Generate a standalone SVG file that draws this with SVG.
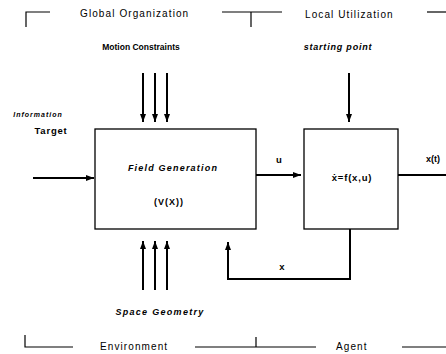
<svg xmlns="http://www.w3.org/2000/svg" width="446" height="354" viewBox="0 0 446 354">
<style>
.ln{fill:none;stroke:#000;stroke-width:1.2}
.th{fill:none;stroke:#000;stroke-width:2}
.box{fill:#fff;stroke:#000;stroke-width:1.3}
.hd{font-family:"Liberation Sans",Arial,sans-serif;font-size:10px;letter-spacing:1.1px;fill:#000}
.b{font-family:"Liberation Sans",Arial,sans-serif;font-size:9px;font-weight:bold;fill:#000}
.bi{font-family:"Liberation Sans",Arial,sans-serif;font-size:9px;font-weight:bold;font-style:italic;fill:#000}
</style>
<defs>
<marker id="ah" viewBox="0 0 8 6" refX="8" refY="3" markerWidth="8" markerHeight="6" markerUnits="userSpaceOnUse" orient="auto">
<path d="M0,0 L8,3 L0,6 Z" fill="#000"/>
</marker>
</defs>
<g id="headers">
<path class="ln" d="M26,27 V12 H50"/>
<text class="hd" x="80" y="17">Global Organization</text>
<path class="ln" d="M222,12 H282 M251,12 V27"/>
<text class="hd" x="305" y="18">Local Utilization</text>
<path class="ln" d="M427,12 H446"/>
<path class="ln" d="M25,335 V347 H73"/>
<text class="hd" x="100" y="350">Environment</text>
<path class="ln" d="M195,347 H316 M256,337 V347"/>
<text class="hd" x="336" y="350">Agent</text>
<path class="ln" d="M402,347 H446"/>
</g>
<g id="labels">
<text class="b" x="141" y="50" text-anchor="middle" style="font-size:8.5px">Motion Constraints</text>
<text class="bi" x="338" y="50" text-anchor="middle" style="letter-spacing:0.8px">starting point</text>
<text class="bi" x="38" y="117" text-anchor="middle" style="font-size:7px;letter-spacing:1px">Information</text>
<text class="b" x="51" y="134" text-anchor="middle" style="font-size:9.5px;letter-spacing:0.8px">Target</text>
<text class="bi" x="160" y="315" text-anchor="middle" style="letter-spacing:1.3px">Space Geometry</text>
</g>
<g id="field">
<rect class="box" x="95" y="129" width="161" height="100"/>
<text class="bi" x="173" y="171" text-anchor="middle" style="letter-spacing:1.2px">Field Generation</text>
<text class="b" x="169" y="205" text-anchor="middle" style="letter-spacing:1px">(V(X))</text>
</g>
<g id="agent">
<rect class="box" x="304" y="129" width="94" height="100"/>
<text class="b" x="352" y="181" text-anchor="middle" style="font-size:9.5px;letter-spacing:0.8px">ẋ=f(x,u)</text>
</g>
<g id="connectors">
<path class="th" d="M143,73 V122" marker-end="url(#ah)"/>
<path class="th" d="M155,73 V122" marker-end="url(#ah)"/>
<path class="th" d="M167,73 V122" marker-end="url(#ah)"/>
<path class="th" d="M349,73 V122" marker-end="url(#ah)"/>
<path class="th" d="M33,178 H94" marker-end="url(#ah)"/>
<path class="th" d="M256,175 H301" marker-end="url(#ah)"/>
<text class="b" x="279" y="163" text-anchor="middle" style="font-size:9.5px">u</text>
<path class="th" d="M398,175 H446"/>
<text class="b" x="426" y="162" style="font-size:9px">x(t)</text>
<path class="th" d="M350,229 V279 H228 V242" marker-end="url(#ah)"/>
<text class="b" x="282" y="270" text-anchor="middle" style="font-size:9.5px">x</text>
<path class="th" d="M143,290 V241" marker-end="url(#ah)"/>
<path class="th" d="M155,290 V241" marker-end="url(#ah)"/>
<path class="th" d="M167,290 V241" marker-end="url(#ah)"/>
</g>
</svg>
